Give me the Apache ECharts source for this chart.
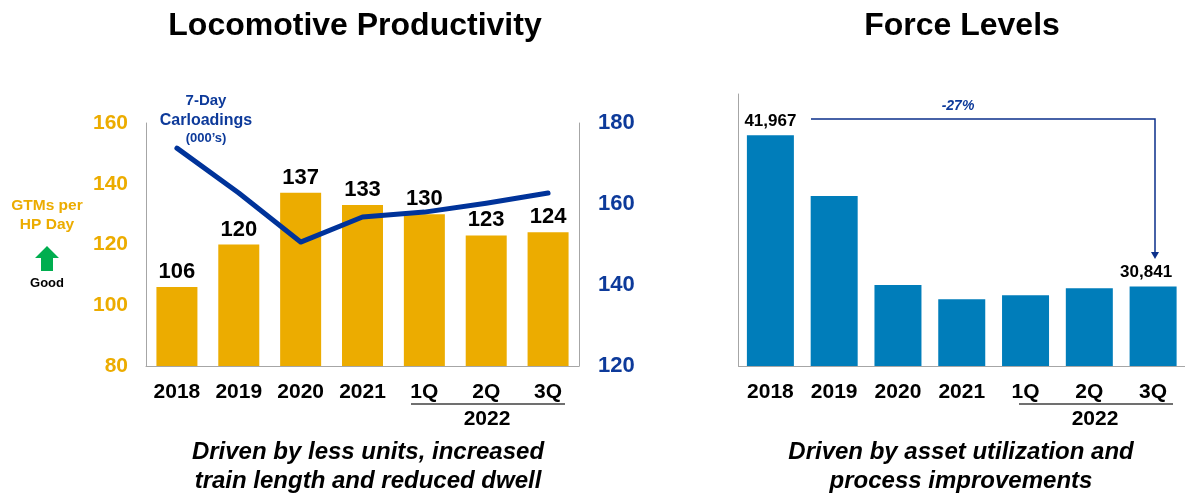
<!DOCTYPE html>
<html>
<head>
<meta charset="utf-8">
<style>
html,body{margin:0;padding:0;background:#fff;}
#main{width:1185px;height:493px;}
</style>
<script src="https://cdn.jsdelivr.net/npm/echarts@6/dist/echarts.min.js"></script>
</head>
<body>
<div id="main"></div>
<script>
var categories = ['2018', '2019', '2020', '2021', '1Q', '2Q', '3Q'];
var productivity = [106, 120, 137, 133, 130, 123, 124];
var carloadings = [173.8, 162.7, 150.6, 156.8, 158, 160.2, 162.7];
var force = [41967, 37500, 30960, 29900, 30200, 30710, 30841];
var forceLabels = ['41,967', '', '', '', '', '', '30,841'];

var font = '"Liberation Sans", Arial, sans-serif';
var gold = '#ecac00', blue = '#0d3a9a', teal = '#007dba', axisGrey = '#a6a6a6';

function txt(text, x, y, size, color, extra) {
	return {
		type: 'text', x: x, y: y + 1, silent: true,
		style: Object.assign({
			text: text, fontFamily: font, fontSize: size, fontWeight: 'bold',
			fill: color, align: 'center', verticalAlign: 'middle'
		}, extra || {})
	};
}
function rule(x1, x2, y, color, width) {
	return {type: 'line', silent: true, shape: {x1: x1, y1: y, x2: x2, y2: y}, style: {stroke: color, lineWidth: width}};
}

var myChart = echarts.init(document.getElementById('main'), null, {renderer: 'canvas'});
var option = {
	backgroundColor: '#fff',
	animation: false,
	textStyle: {fontFamily: font},
	grid: [
		{left: 146, top: 123, width: 433, height: 243},
		{left: 738.5, top: 94, width: 448, height: 272}
	],
	xAxis: [0, 1].map(function (i) {
		return {
			type: 'category', gridIndex: i, data: categories,
			axisTick: {show: false},
			axisLine: {lineStyle: {color: axisGrey, width: 1}},
			axisLabel: {color: '#000', fontSize: 21, fontWeight: 'bold', fontFamily: font, margin: 16, interval: 0}
		};
	}),
	yAxis: [
		{
			type: 'value', min: 80, max: 160, interval: 20, gridIndex: 0,
			splitLine: {show: false}, axisTick: {show: false},
			axisLine: {show: true, lineStyle: {color: axisGrey, width: 1}},
			axisLabel: {color: gold, fontSize: 21, fontWeight: 'bold', fontFamily: font, margin: 18, padding: [2, 0, 0, 0]}
		},
		{
			type: 'value', min: 120, max: 180, interval: 20, gridIndex: 0, position: 'right',
			splitLine: {show: false}, axisTick: {show: false},
			axisLine: {show: true, lineStyle: {color: axisGrey, width: 1}},
			axisLabel: {color: blue, fontSize: 22, fontWeight: 'bold', fontFamily: font, margin: 19, padding: [2, 0, 0, 0]}
		},
		{
			type: 'value', min: 25000, max: 45000, gridIndex: 1,
			splitLine: {show: false}, axisTick: {show: false},
			axisLine: {show: true, lineStyle: {color: axisGrey, width: 1}},
			axisLabel: {show: false}
		}
	],
	series: [
		{
			type: 'bar', xAxisIndex: 0, yAxisIndex: 0, data: productivity, barWidth: 41,
			itemStyle: {color: gold},
			label: {show: true, position: 'top', distance: 4, color: '#000', fontSize: 22, fontWeight: 'bold', fontFamily: font}
		},
		{
			type: 'line', xAxisIndex: 0, yAxisIndex: 1, data: carloadings, z: 5,
			symbol: 'none', lineStyle: {color: '#00339a', width: 5, cap: 'round', join: 'round'}
		},
		{
			type: 'bar', xAxisIndex: 1, yAxisIndex: 2, barWidth: 47,
			data: force.map(function (v, i) {
				return {
					value: v,
					label: {
						show: forceLabels[i] !== '', formatter: forceLabels[i], position: 'top',
						distance: i === 0 ? 5 : 6,
						offset: [i === 6 ? -7 : 0, 0],
						color: '#000', fontSize: 17, fontWeight: 'bold', fontFamily: font
					}
				};
			}),
			itemStyle: {color: teal}
		}
	],
	graphic: [
		txt('Locomotive Productivity', 355, 25, 32, '#000'),
		txt('Force Levels', 962, 25, 32, '#000'),

		// left side key
		txt('GTMs per', 47, 205, 15.5, gold),
		txt('HP Day', 47, 224, 15.5, gold),
		{
			type: 'polygon', silent: true,
			shape: {points: [[47, 246], [59, 258], [53, 258], [53, 271], [41, 271], [41, 258], [35, 258]]},
			style: {fill: '#00ae4f'}
		},
		txt('Good', 47, 282, 13, '#000'),

		// line name
		txt('7-Day', 206, 100, 15, blue),
		txt('Carloadings', 206, 120, 16, blue),
		txt('(000\u2019s)', 206, 137, 13, blue),

		// 2022 brackets
		rule(411, 565, 404, '#404040', 1.5),
		txt('2022', 487, 418, 21, '#000'),
		rule(1019, 1173, 404, '#404040', 1.5),
		txt('2022', 1095, 418, 21, '#000'),

		// change arrow
		{
			type: 'polyline', silent: true,
			shape: {points: [[811, 119], [1155, 119], [1155, 254]]},
			style: {stroke: '#0b2f8a', lineWidth: 1.5, fill: null}
		},
		{
			type: 'polygon', silent: true,
			shape: {points: [[1151, 252], [1159, 252], [1155, 259]]},
			style: {fill: '#0b2f8a'}
		},
		txt('-27%', 958, 105, 14, blue, {fontStyle: 'italic'}),

		// captions
		txt('Driven by less units, increased', 368, 451, 24, '#000', {fontStyle: 'italic'}),
		txt('train length and reduced dwell', 368, 480, 24, '#000', {fontStyle: 'italic'}),
		txt('Driven by asset utilization and', 961, 451, 24, '#000', {fontStyle: 'italic'}),
		txt('process improvements', 961, 480, 24, '#000', {fontStyle: 'italic'})
	]
};
myChart.setOption(option);
</script>
</body>
</html>
